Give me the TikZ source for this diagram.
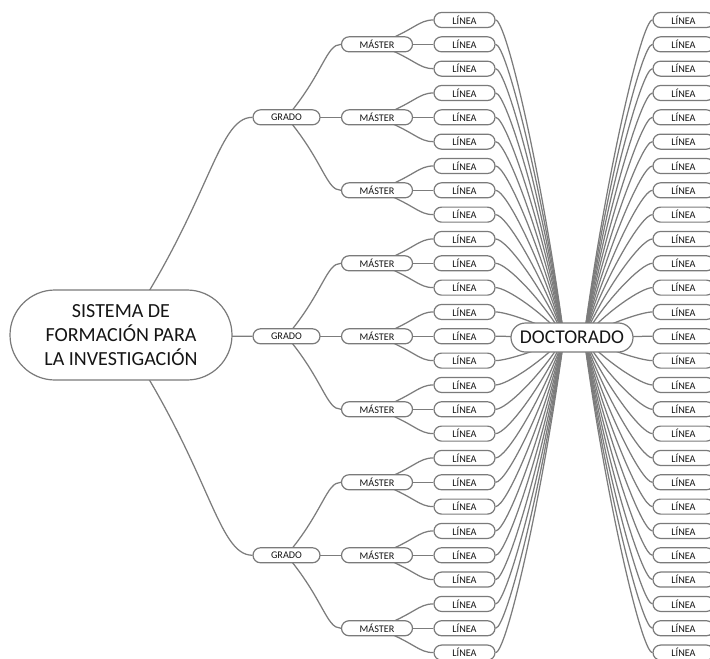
\documentclass[tikz,border=0pt]{standalone}
\usepackage{fontspec}
\setmainfont{Carlito}
\usetikzlibrary{calc,backgrounds}
\definecolor{boxgray}{HTML}{7A7A7A}
\definecolor{linegray}{HTML}{7C7C7C}
\definecolor{txt}{HTML}{151515}
\newcommand\treeconn[2]{\draw[conn] let \p1=(#1.center), \p2=(#2.west) in (\p1) .. controls ({\x1+0.68*(\x2-\x1)},{\y1+0.6*(\y2-\y1)}) and ({\x2-0.27*(\x2-\x1)},\y2) .. (\p2);}
\newcommand\docconn[2]{\draw[conn] let \p1=(#1), \p2=(#2) in (\p1) .. controls ({\x1+0.16*(\x2-\x1)},\y1) and ({\x2-0.31*(\x2-\x1)},{\y2-0.5*(\y2-\y1)}) .. (\p2);}
\begin{document}
\begin{tikzpicture}[x=1pt,y=-1pt,
  box/.style={draw=boxgray, line width=1.2pt, fill=white, rounded corners=7.5pt, minimum height=15pt, inner sep=0pt, font=\fontsize{10.2}{12}\selectfont, text=txt},
  linea/.style={box, minimum width=61pt},
  master/.style={box, minimum width=71pt},
  grado/.style={box, minimum width=67pt},
  conn/.style={draw=linegray, line width=1.25pt},
]
\useasboundingbox (0,0) rectangle (710,659);
\clip (0,0) rectangle (710,659);
\node[draw=boxgray, line width=1.2pt, fill=white, rounded corners=45pt, minimum width=222pt, minimum height=90pt, inner sep=0pt, align=center, text=txt, font=\fontsize{20}{24}\selectfont] (S) at (121,335) {SISTEMA DE\\FORMACIÓN PARA\\LA INVESTIGACIÓN};
\node[draw=boxgray, line width=1.2pt, fill=white, rounded corners=14.5pt, minimum width=122pt, minimum height=29pt, inner sep=0pt, text=txt, font=\fontsize{19.5}{22}\selectfont] (D) at (572,337.5) {DOCTORADO};
\coordinate (DL) at ($(D.center)+(-8,0)$);
\coordinate (DR) at ($(D.center)+(12,0)$);
\foreach \i in {0,...,26} {
  \pgfmathsetmacro\yy{20+24.33*\i}
  \node[linea] (L\i) at (464.5,\yy) {LÍNEA};
  \node[linea] (R\i) at (683.5,\yy) {LÍNEA};
}
\foreach \mm in {0,...,8} {
  \pgfmathsetmacro\yy{20+24.33*(1+3*\mm)}
  \node[master] (M\mm) at (377,\yy) {MÁSTER};
}
\foreach \g in {0,1,2} {
  \pgfmathsetmacro\yy{20+24.33*(4+9*\g)}
  \node[grado] (G\g) at (286.5,\yy) {GRADO};
}
\begin{scope}[on background layer]
  \foreach \g in {0,1,2} {\treeconn{S}{G\g}}
  \foreach \g in {0,1,2} {\foreach \k in {0,1,2} {\pgfmathtruncatemacro\midx{3*\g+\k}\treeconn{G\g}{M\midx}}}
  \foreach \mm in {0,...,8} {\foreach \k in {0,1,2} {\pgfmathtruncatemacro\lidx{3*\mm+\k}\treeconn{M\mm}{L\lidx}}}
  \foreach \i in {0,...,26} {\docconn{L\i.east}{DL}\docconn{R\i.west}{DR}}
\end{scope}
\end{tikzpicture}
\end{document}
